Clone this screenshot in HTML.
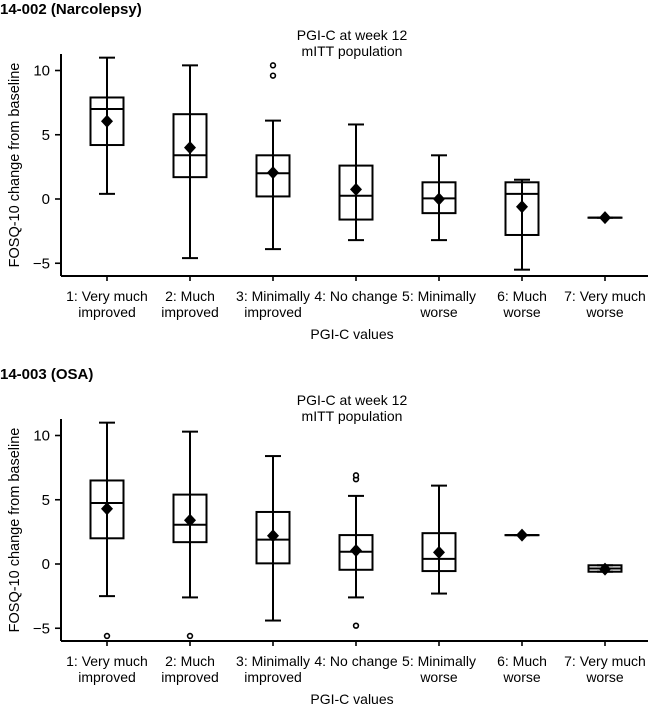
<!DOCTYPE html>
<html><head><meta charset="utf-8"><style>
html,body{margin:0;padding:0;background:#fff;}
svg{display:block;font-family:"Liberation Sans",Arial,sans-serif;}
</style></head><body>
<svg id="chart" width="648" height="709" viewBox="0 0 648 709"></svg>
<script>
const categories1 = ["1: Very much|improved","2: Much|improved","3: Minimally|improved","4: No change|","5: Minimally|worse","6: Much|worse","7: Very much|worse"];
const mins1 = [0.4,-4.6,-3.9,-3.2,-3.2,-5.5,-1.45];
const q1s1 = [4.2,1.7,0.2,-1.6,-1.1,-2.8,-1.45];
const meds1 = [7,3.4,2,0.25,0.05,0.4,-1.45];
const q3s1 = [7.9,6.6,3.4,2.6,1.3,1.3,-1.45];
const maxs1 = [11,10.4,6.1,5.8,3.4,1.5,-1.45];
const means1 = [6.05,4,2.05,0.75,0,-0.6,-1.45];
const outliers1 = [[],[],[9.6,10.4],[],[],[],[]];

const mins2 = [-2.5,-2.6,-4.4,-2.6,-2.3,2.25,-0.6];
const q1s2 = [2,1.7,0.05,-0.45,-0.55,2.25,-0.6];
const meds2 = [4.75,3.05,1.9,0.95,0.4,2.25,-0.35];
const q3s2 = [6.5,5.4,4.05,2.25,2.4,2.25,-0.1];
const maxs2 = [11,10.3,8.4,5.3,6.1,2.25,-0.1];
const means2 = [4.3,3.4,2.2,1.05,0.9,2.25,-0.4];
const outliers2 = [[-5.6],[-5.6],[],[6.6,6.9,-4.8],[],[],[]];
const yTicks = [10,5,0,-5];

const NS="http://www.w3.org/2000/svg";
const svg=document.getElementById('chart');
function mk(tag,attrs,parent,name){const e=document.createElementNS(NS,tag);for(const k in attrs)e.setAttribute(k,attrs[k]);


parent.appendChild(e);return e;}
function txt(x,y,s,parent,name,opts){const t=mk('text',Object.assign({x:x,y:y,'font-size':14,'text-anchor':'middle',fill:'#000'},opts||{}),parent,name);t.textContent=s;return t;}

function panel(off,label,axTop,y0,mins,q1s,meds,q3s,maxs,means,outl,pid){
  const g=mk('g',{},svg,pid);
  const ppu=12.85;
  const y=v=>y0 - v*ppu;
  const x=i=>107+i*83;
  const axBottom=axTop+222;
  const hw=16.5;
  const sw=2;
  txt(0,off+14,label,g,'panel-label',{'text-anchor':'start','font-weight':'bold','font-size':15});
  txt(352,off+40,'PGI-C at week 12',g,'chart-title-line1');
  txt(352,off+56,'mITT population',g,'chart-title-line2');
  mk('line',{x1:61,y1:axTop,x2:61,y2:axBottom,stroke:'#000','stroke-width':sw},g,'y-axis-line');
  mk('line',{x1:61,y1:axBottom,x2:648,y2:axBottom,stroke:'#000','stroke-width':sw},g,'x-axis-line');
  yTicks.forEach(v=>{
    mk('line',{x1:55,y1:y(v),x2:61,y2:y(v),stroke:'#000','stroke-width':1.6},g,'y-tick');
    txt(50,y(v)+5,v<0?'\u2212'+(-v):String(v),g,'y-tick-label',{'text-anchor':'end','font-size':15});
  });
  const tt=mk('text',{x:0,y:0,'font-size':14.5,'text-anchor':'middle',fill:'#000',transform:`translate(19,${(axTop+axBottom)/2}) rotate(-90)`},g,'y-axis-title');
  tt.textContent='FOSQ-10 change from baseline';
  categories1.forEach((c,i)=>{
    const cx=x(i);
    mk('line',{x1:cx,y1:axBottom,x2:cx,y2:axBottom+5,stroke:'#000','stroke-width':1.6},g,'x-tick');
    const parts=c.split('|');
    txt(cx,axBottom+25,parts[0],g,'x-tick-label');
    if(parts[1])txt(cx,axBottom+41,parts[1],g,'x-tick-label');
    const bg=mk('g',{},g,'box-'+(i+1));
    mk('line',{x1:cx,y1:y(maxs[i]),x2:cx,y2:y(mins[i]),stroke:'#000','stroke-width':sw},bg,'whisker');
    mk('line',{x1:cx-8,y1:y(maxs[i]),x2:cx+8,y2:y(maxs[i]),stroke:'#000','stroke-width':sw},bg,'whisker-cap-top');
    mk('line',{x1:cx-8,y1:y(mins[i]),x2:cx+8,y2:y(mins[i]),stroke:'#000','stroke-width':sw},bg,'whisker-cap-bottom');
    mk('rect',{x:cx-hw,y:y(q3s[i]),width:2*hw,height:Math.max(y(q1s[i])-y(q3s[i]),0.1),fill:'none',stroke:'#000','stroke-width':sw},bg,'iqr-box');
    mk('line',{x1:cx-hw,y1:y(meds[i]),x2:cx+hw,y2:y(meds[i]),stroke:'#000','stroke-width':sw},bg,'median-line');
    const my=y(means[i]);
    mk('polygon',{points:`${cx},${my-6.5} ${cx+6},${my} ${cx},${my+6.5} ${cx-6},${my}`,fill:'#000'},bg,'mean-marker');
    outl[i].forEach(o=>mk('circle',{cx:cx,cy:y(o),r:2.4,fill:'#fff',stroke:'#000','stroke-width':1.6},bg,'outlier'));
  });
  txt(352,axBottom+63,'PGI-C values',g,'x-axis-title');
}
panel(0,'14-002 (Narcolepsy)',54,199,mins1,q1s1,meds1,q3s1,maxs1,means1,outliers1,'panel-narcolepsy');
panel(365,'14-003 (OSA)',419,564,mins2,q1s2,meds2,q3s2,maxs2,means2,outliers2,'panel-osa');
</script>
</body></html>
